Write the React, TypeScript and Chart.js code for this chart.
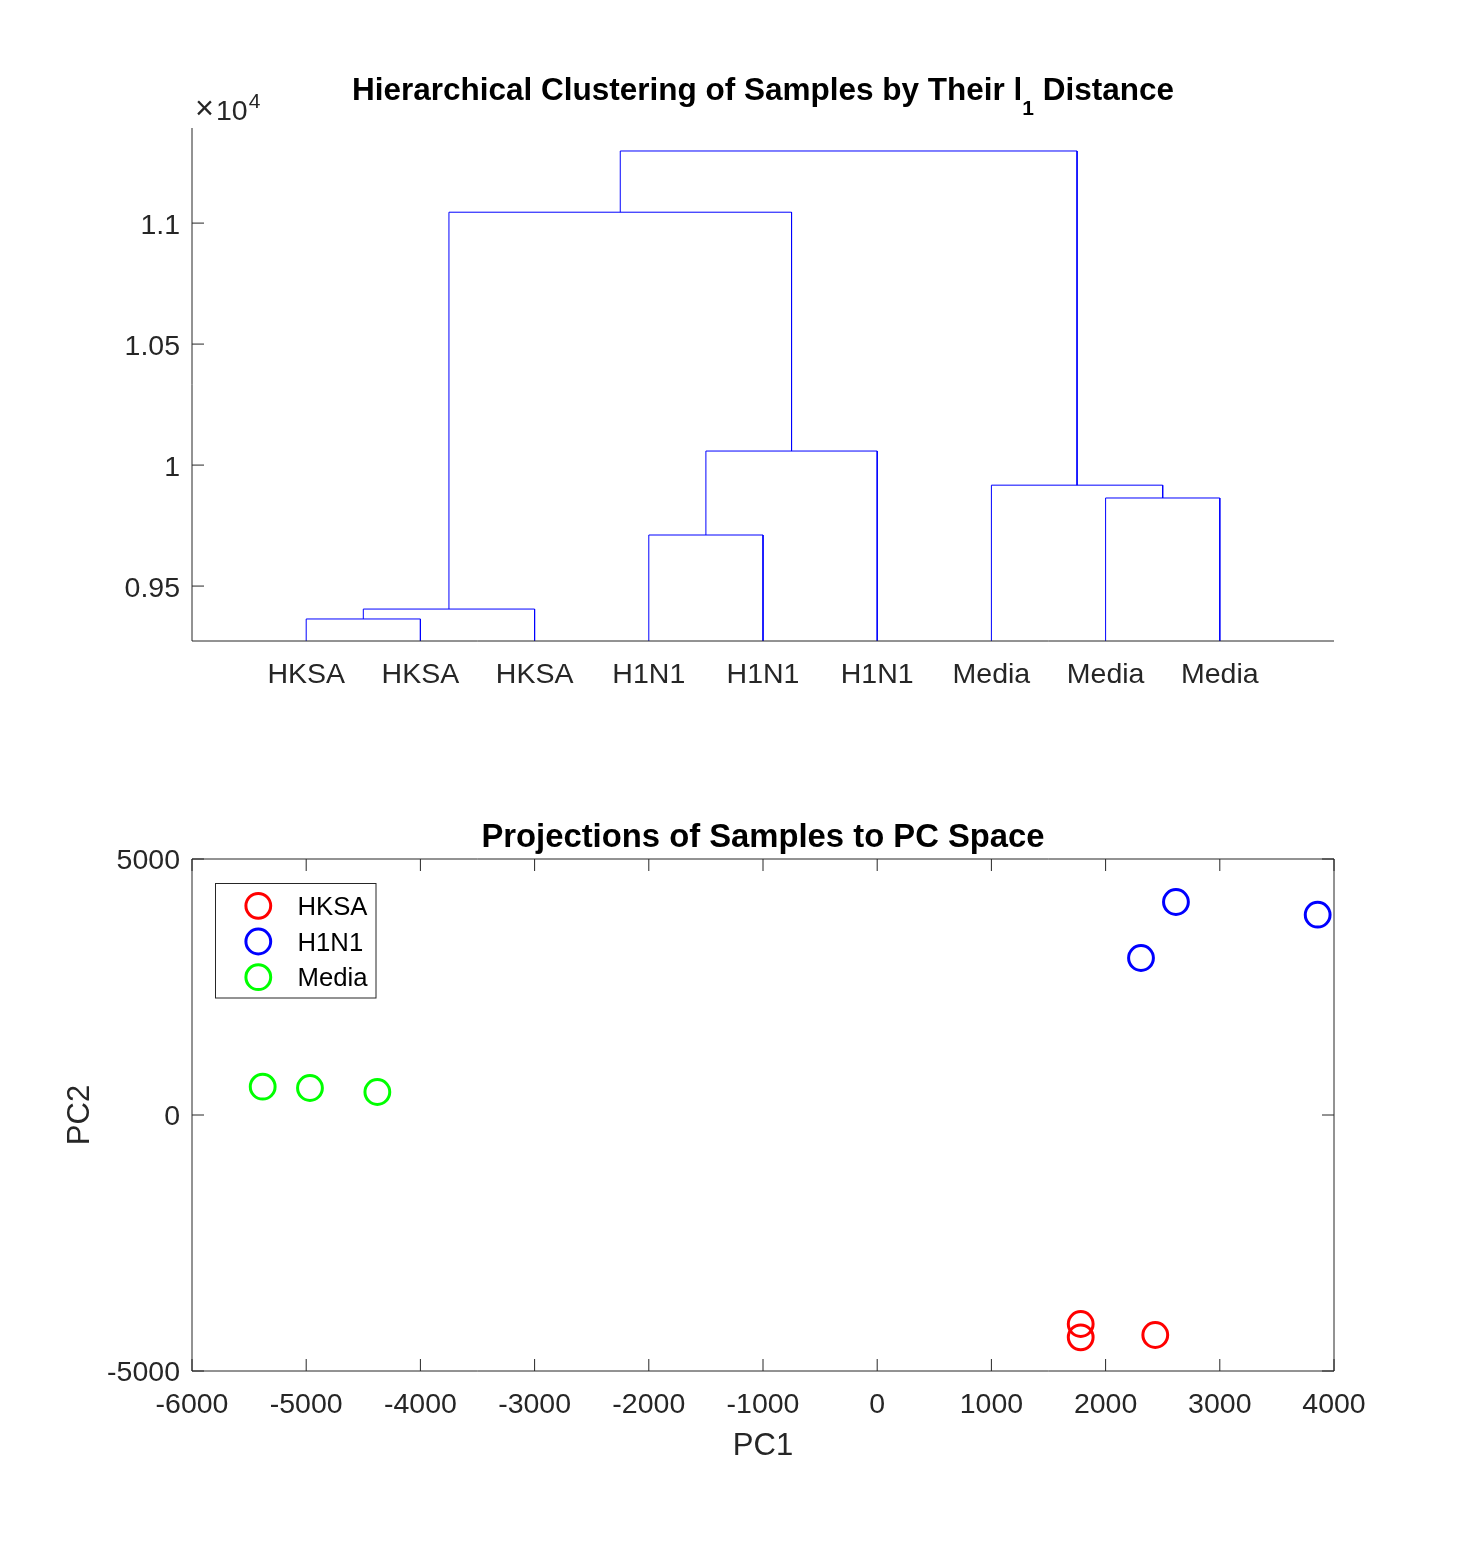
import React, { useEffect, useRef } from "react";
import { Chart, registerables } from "chart.js";

Chart.register(...registerables);

const FONT = '"Liberation Sans", Arial, Helvetica, sans-serif';
const INK = "#262626";
const TICK_SIZE = 28.5;

// Dendrogram leaves, left to right
const leafLabels = ["HKSA", "HKSA", "HKSA", "H1N1", "H1N1", "H1N1", "Media", "Media", "Media"];
// Linkage rows: node ids 1-9 are the leaves, each row creates node 10, 11, ...
const linkLeft = [1, 10, 4, 12, 8, 7, 11, 16];
const linkRight = [2, 3, 5, 6, 9, 14, 13, 15];
const linkHeight = [9364, 9405, 9711, 10058, 9864, 9917, 11045, 11298];
const distanceTicks = [9500, 10000, 10500, 11000];
const distanceRange = [9273, 11393];

// Projections onto the first two principal components
const groupNames = ["HKSA", "H1N1", "Media"];
const groupColors = ["#ff0000", "#0000ff", "#00ff00"];
const hksaPC1 = [1782, 1782, 2435];
const hksaPC2 = [-4082, -4342, -4297];
const h1n1PC1 = [2616, 2310, 3857];
const h1n1PC2 = [4160, 3066, 3912];
const mediaPC1 = [-5381, -4967, -4377];
const mediaPC2 = [553, 527, 449];
const groupPC1 = [hksaPC1, h1n1PC1, mediaPC1];
const groupPC2 = [hksaPC2, h1n1PC2, mediaPC2];

// Turn the linkage rows into the U-shaped links of the dendrogram
function linkageSegments() {
  const xs: number[] = [0, ...leafLabels.map((_, i) => i + 1)];
  const hs: number[] = [0, ...leafLabels.map(() => 0)];
  const segs: { x: number; y: number }[][] = [];
  linkLeft.forEach((a, k) => {
    const b = linkRight[k];
    const h = linkHeight[k];
    segs.push([
      { x: xs[a], y: hs[a] },
      { x: xs[a], y: h },
      { x: xs[b], y: h },
      { x: xs[b], y: hs[b] },
    ]);
    xs.push((xs[a] + xs[b]) / 2);
    hs.push(h);
  });
  return segs;
}

// Axis lines with inward tick marks
function framePlugin(box: boolean, xTicks: boolean) {
  return {
    id: "axesFrame",
    afterDatasetsDraw(chart: any) {
      const { ctx, chartArea } = chart;
      const { left, right, top, bottom } = chartArea;
      const xs = chart.scales.x;
      const ys = chart.scales.y;
      const tl = 12;
      ctx.save();
      ctx.strokeStyle = INK;
      ctx.lineWidth = 1;
      ctx.beginPath();
      ctx.moveTo(left, top);
      ctx.lineTo(left, bottom);
      ctx.lineTo(right, bottom);
      if (box) {
        ctx.lineTo(right, top);
        ctx.lineTo(left, top);
      }
      ys.ticks.forEach((t: any) => {
        const p = ys.getPixelForValue(t.value);
        ctx.moveTo(left, p);
        ctx.lineTo(left + tl, p);
        if (box) {
          ctx.moveTo(right, p);
          ctx.lineTo(right - tl, p);
        }
      });
      if (xTicks) {
        xs.ticks.forEach((t: any) => {
          const p = xs.getPixelForValue(t.value);
          ctx.moveTo(p, bottom);
          ctx.lineTo(p, bottom - tl);
          if (box) {
            ctx.moveTo(p, top);
            ctx.lineTo(p, top + tl);
          }
        });
      }
      ctx.stroke();
      ctx.restore();
    },
  };
}

type Piece = { text: string; size: number; shift: number };

// Bold heading centred over the plot area, pieces allow a subscript
function headingPlugin(pieces: Piece[], baseline: number) {
  return {
    id: "heading",
    afterDraw(chart: any) {
      const { ctx, chartArea } = chart;
      ctx.save();
      ctx.fillStyle = "#000";
      ctx.textBaseline = "alphabetic";
      ctx.textAlign = "left";
      const widths = pieces.map((p) => {
        ctx.font = `bold ${p.size}px ${FONT}`;
        return ctx.measureText(p.text).width;
      });
      const total = widths.reduce((a, b) => a + b, 0);
      let x = (chartArea.left + chartArea.right) / 2 - total / 2;
      pieces.forEach((p, i) => {
        ctx.font = `bold ${p.size}px ${FONT}`;
        ctx.fillText(p.text, x, baseline + p.shift);
        x += widths[i];
      });
      ctx.restore();
    },
  };
}

// "×10^4" multiplier above the distance axis
const exponentPlugin = {
  id: "exponent",
  afterDraw(chart: any) {
    const { ctx, chartArea } = chart;
    ctx.save();
    ctx.fillStyle = INK;
    ctx.textBaseline = "alphabetic";
    ctx.textAlign = "left";
    const x0 = chartArea.left + 3;
    const y0 = chartArea.top - 8;
    ctx.font = `${TICK_SIZE + 4}px ${FONT}`;
    ctx.fillText("\u00d7", x0, y0 - 1);
    ctx.font = `${TICK_SIZE}px ${FONT}`;
    const x1 = x0 + 21;
    ctx.fillText("10", x1, y0);
    const w = ctx.measureText("10").width;
    ctx.font = `21px ${FONT}`;
    ctx.fillText("4", x1 + w + 1, y0 - 12);
    ctx.restore();
  },
};

// Boxed legend in the upper-left corner of the plot
const legendPlugin = {
  id: "boxLegend",
  afterDraw(chart: any) {
    const { ctx, chartArea } = chart;
    const bx = chartArea.left + 23.5;
    const by = chartArea.top + 24.5;
    const bw = 160.5;
    const bh = 114.5;
    const row = 35.7;
    ctx.save();
    ctx.fillStyle = "#fff";
    ctx.fillRect(bx, by, bw, bh);
    ctx.strokeStyle = INK;
    ctx.lineWidth = 1;
    ctx.strokeRect(bx, by, bw, bh);
    ctx.font = `25.7px ${FONT}`;
    ctx.textBaseline = "middle";
    ctx.textAlign = "left";
    chart.data.datasets.forEach((ds: any, i: number) => {
      const cy = by + 22.3 + i * row;
      ctx.beginPath();
      ctx.arc(bx + 42.8, cy, 12.4, 0, Math.PI * 2);
      ctx.strokeStyle = ds.borderColor;
      ctx.lineWidth = 3;
      ctx.stroke();
      ctx.fillStyle = "#000";
      ctx.fillText(ds.label, bx + 82, cy + 2);
    });
    ctx.restore();
  },
};

const tickFont = { family: FONT, size: TICK_SIZE };

export default function App() {
  const topRef = useRef<HTMLCanvasElement | null>(null);
  const botRef = useRef<HTMLCanvasElement | null>(null);

  useEffect(() => {
    if (!topRef.current || !botRef.current) return;

    const dendro = new Chart(topRef.current, {
      type: "scatter",
      data: {
        datasets: linkageSegments().map((seg) => ({
          data: seg,
          showLine: true,
          borderColor: "#0000ff",
          borderWidth: 1,
          pointRadius: 0,
          pointHoverRadius: 0,
          tension: 0,
          clip: 0,
        })),
      },
      options: {
        responsive: false,
        animation: false,
        events: [],
        layout: { padding: { top: 128, left: 92, right: 141, bottom: 59 } },
        plugins: { legend: { display: false }, tooltip: { enabled: false }, title: { display: false } },
        scales: {
          x: {
            type: "linear",
            min: 0,
            max: leafLabels.length + 1,
            afterBuildTicks: (s: any) => {
              s.ticks = leafLabels.map((_, i) => ({ value: i + 1 }));
            },
            afterFit: (s: any) => {
              s.height = 60;
            },
            ticks: {
              callback: (v: any) => leafLabels[Number(v) - 1] ?? "",
              font: tickFont,
              color: INK,
              padding: 17,
              autoSkip: false,
              maxRotation: 0,
            },
            grid: { display: false, drawTicks: false },
            border: { display: false },
          },
          y: {
            type: "linear",
            min: distanceRange[0],
            max: distanceRange[1],
            afterBuildTicks: (s: any) => {
              s.ticks = distanceTicks.map((v) => ({ value: v }));
            },
            afterFit: (s: any) => {
              s.width = 100;
            },
            ticks: {
              callback: (v: any) => String(Number((Number(v) / 1e4).toFixed(2))),
              font: tickFont,
              color: INK,
              padding: 12,
              labelOffset: 3,
            },
            grid: { display: false, drawTicks: false },
            border: { display: false },
          },
        },
      },
      plugins: [
        framePlugin(false, false),
        headingPlugin(
          [
            { text: "Hierarchical Clustering of Samples by Their l", size: 31.5, shift: 0 },
            { text: "1", size: 21, shift: 15 },
            { text: " Distance", size: 31.5, shift: 0 },
          ],
          100
        ),
        exponentPlugin,
      ],
    } as any);

    const pca = new Chart(botRef.current, {
      type: "scatter",
      data: {
        datasets: groupNames.map((name, g) => ({
          label: name,
          data: groupPC1[g].map((x, i) => ({ x, y: groupPC2[g][i] })),
          borderColor: groupColors[g],
          backgroundColor: "rgba(0,0,0,0)",
          pointRadius: 12.4,
          pointHoverRadius: 12.4,
          pointBorderWidth: 3,
          clip: false,
        })),
      },
      options: {
        responsive: false,
        animation: false,
        events: [],
        layout: { padding: { top: 99, left: 62, right: 141, bottom: 77 } },
        plugins: { legend: { display: false }, tooltip: { enabled: false }, title: { display: false } },
        scales: {
          x: {
            type: "linear",
            min: -6000,
            max: 4000,
            afterFit: (s: any) => {
              s.height = 94;
            },
            ticks: {
              stepSize: 1000,
              callback: (v: any) => String(v),
              font: tickFont,
              color: INK,
              padding: 17,
              autoSkip: false,
              maxRotation: 0,
            },
            title: { display: true, text: "PC1", font: { family: FONT, size: 31 }, color: INK, padding: 0 },
            grid: { display: false, drawTicks: false },
            border: { display: false },
          },
          y: {
            type: "linear",
            min: -5000,
            max: 5000,
            afterFit: (s: any) => {
              s.width = 130;
            },
            ticks: {
              stepSize: 5000,
              callback: (v: any) => String(v),
              font: tickFont,
              color: INK,
              padding: 12,
              labelOffset: 2.5,
            },
            title: { display: true, text: "PC2", font: { family: FONT, size: 31 }, color: INK, padding: 0 },
            grid: { display: false, drawTicks: false },
            border: { display: false },
          },
        },
      },
      plugins: [
        framePlugin(true, true),
        headingPlugin([{ text: "Projections of Samples to PC Space", size: 32.8, shift: 0 }], 86.7),
        legendPlugin,
      ],
    } as any);

    return () => {
      dendro.destroy();
      pca.destroy();
    };
  }, []);

  return (
    <div style={{ position: "absolute", left: 0, top: 0, width: 1475, height: 1542, background: "#fff" }}>
      <canvas ref={topRef} width={1475} height={760} style={{ position: "absolute", left: 0, top: 0, width: 1475, height: 760 }} />
      <canvas ref={botRef} width={1475} height={782} style={{ position: "absolute", left: 0, top: 760, width: 1475, height: 782 }} />
    </div>
  );
}
